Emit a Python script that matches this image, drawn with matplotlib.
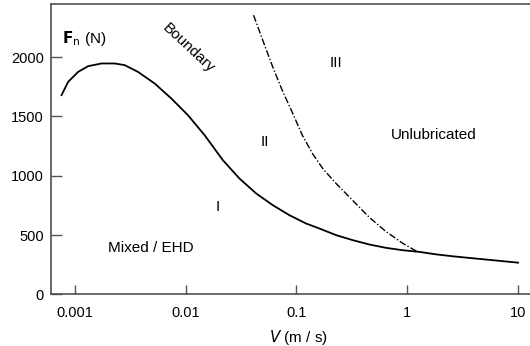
import numpy as np
import matplotlib.pyplot as plt

plt.rcParams['font.family'] = ['Liberation Sans', 'DejaVu Sans']

# Transition curve (solid): log10(V) and Fn in N
logv_solid = [-3.120, -3.060, -2.970, -2.880, -2.759, -2.640, -2.550, -2.430,
              -2.279, -2.129, -1.979, -1.829, -1.664, -1.514, -1.363, -1.214,
              -1.063, -0.913, -0.793, -0.642, -0.493, -0.342, -0.192, -0.042,
              0.108, 0.259, 0.408, 0.559, 1.0]
f_solid = [1680, 1792, 1876, 1924, 1947, 1947, 1933, 1876,
           1778, 1652, 1511, 1343, 1132, 977, 851, 753,
           668, 598, 556, 500, 458, 421, 393, 373,
           359, 338, 322, 308, 268]

# Unlubricated limit (dash-dot)
logv_dash = [-1.387, -1.304, -1.214, -1.130, -1.033, -0.943, -0.853, -0.763,
             -0.642, -0.523, -0.432, -0.342, -0.192, -0.042, 0.093]
f_dash = [2354, 2143, 1918, 1725, 1525, 1335, 1185, 1062,
          935, 822, 735, 650, 530, 432, 359]

xticks = [0.001, 0.01, 0.1, 1, 10]
xticklabels = ['0.001', '0.01', '0.1', '1', '10']
yticks = [0, 500, 1000, 1500, 2000]

fig = plt.figure(figsize=(5.3, 3.46), dpi=100)
ax = fig.add_axes([0.096, 0.149, 0.904, 0.839])

ax.plot(10 ** np.array(logv_solid), f_solid, color='black', lw=1.3)
ax.plot(10 ** np.array(logv_dash), f_dash, color='black', lw=1.0,
        linestyle=(0, (5, 1.5, 1, 1.5)))

ax.set_xscale('log')
ax.set_xlim(10 ** -3.216, 10 ** 1.108)
ax.set_ylim(0, 2447)
ax.set_xticks(xticks)
ax.set_xticklabels(xticklabels)
ax.minorticks_off()
ax.set_yticks(yticks)
ax.tick_params(direction='in', width=1, color='#555555', labelsize=10.5)
ax.tick_params(axis='x', length=6.5, pad=8)
ax.tick_params(axis='y', length=8, pad=5)

for s in ['left', 'bottom', 'top']:
    ax.spines[s].set_color('#505050')
    ax.spines[s].set_linewidth(1.2)
ax.spines['right'].set_visible(False)

ax.set_xlabel(r'$\mathit{V}$ (m / s)', fontsize=11, va='center')
ax.xaxis.set_label_coords(0.516, -0.147)

# text labels
ax.text(0.00076, 2120, r'$\mathbf{F}_{\mathrm{n}}$ (N)', fontsize=11)
ax.text(0.0105, 2075, 'Boundary', rotation=-43, fontsize=11, ha='center', va='center')
ax.text(0.229, 1949, 'III', fontsize=11, ha='center', va='center')
ax.text(0.0515, 1286, 'II', fontsize=11, ha='center', va='center')
ax.text(1.75, 1343, 'Unlubricated', fontsize=11, ha='center', va='center')
ax.text(0.0195, 738, 'I', fontsize=11, ha='center', va='center')
ax.text(0.00484, 393, 'Mixed / EHD', fontsize=11, ha='center', va='center')

fig.savefig('out.png', dpi=100)
